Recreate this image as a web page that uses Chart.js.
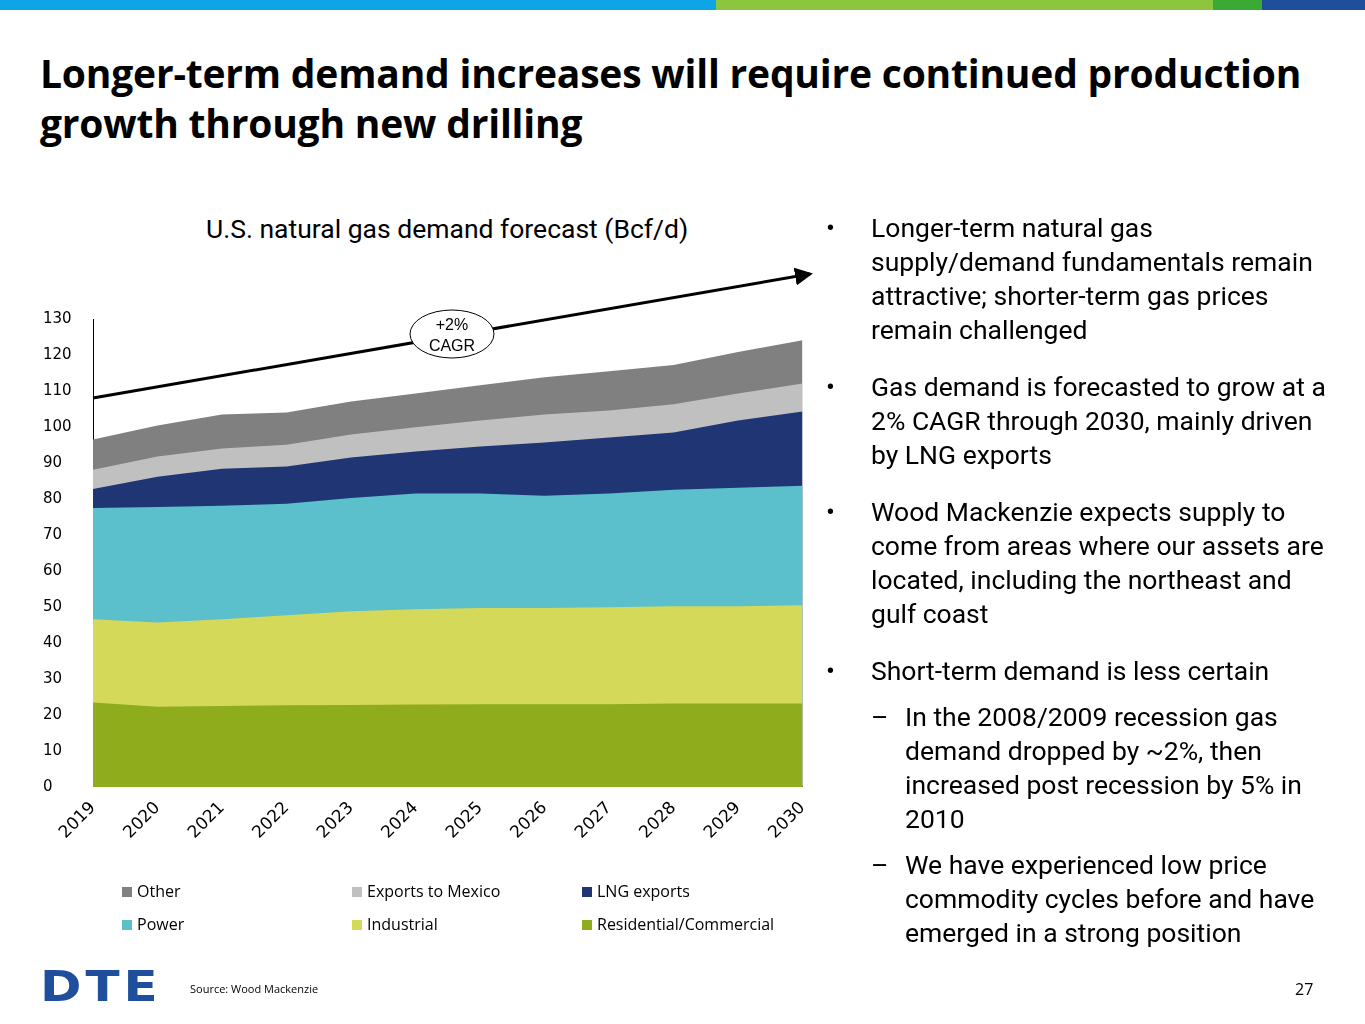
<!DOCTYPE html>
<html><head><meta charset="utf-8">
<script src="https://cdn.jsdelivr.net/npm/chart.js@4"></script>
<style>
body{margin:0;width:1365px;height:1024px;position:relative;background:#fff;font-family:"Open Sans",sans-serif;overflow:hidden}
.bar{position:absolute;top:0;height:10px}
h1{position:absolute;left:40px;top:48px;margin:0;font-size:39px;line-height:50px;font-weight:700;color:#000;letter-spacing:-0.2px}
#ct{position:absolute;left:206px;top:213px;font-size:26.5px;font-family:Roboto,sans-serif}
#wrap{position:absolute;left:20px;top:294px;width:800px;height:552px}
.bul{position:absolute;left:826px;top:211px;width:530px;font-family:Roboto,sans-serif;font-size:26.5px;line-height:34px;color:#000}
.bul p{margin:0 0 23px 45px;position:relative;white-space:nowrap}
.bul p:before{content:"•";position:absolute;left:-45px}
.bul p.s{margin-left:79px;margin-bottom:12px}
.bul p.s:before{content:"–";left:-34px}
.leg{position:absolute;font-size:16px;font-family:"Open Sans",sans-serif}
.leg i{display:inline-block;width:10px;height:10px;margin-right:5px}
#src{position:absolute;left:190px;top:981px;font-size:11px}
#pg{position:absolute;left:1295px;top:978px;font-size:16px}
#dte{position:absolute;left:40px;top:962px;font-size:50px;font-weight:900;color:#1e4e9c;font-family:"DejaVu Sans",sans-serif;letter-spacing:4px;line-height:50px;transform:scaleY(0.85)}
</style></head><body>
<div class="bar" style="left:0;width:716px;background:#0ea5e6"></div>
<div class="bar" style="left:716px;width:497px;background:#8cc63f"></div>
<div class="bar" style="left:1213px;width:49px;background:#3aaa35"></div>
<div class="bar" style="left:1262px;width:103px;background:#1e4e9c"></div>
<h1>Longer-term demand increases will require continued production<br>growth through new drilling</h1>
<div id="ct">U.S. natural gas demand forecast (Bcf/d)</div>
<div id="wrap"><canvas id="c"></canvas></div>
<svg style="position:absolute;left:0;top:0" width="1365" height="1024">
<defs><marker id="ah" markerWidth="6" markerHeight="6" refX="5" refY="3" orient="auto"><path d="M0,0 L6,3 L0,6 z" fill="#000"/></marker></defs>
<line x1="93" y1="398" x2="810" y2="274" stroke="#000" stroke-width="3" marker-end="url(#ah)"/>
<ellipse cx="452" cy="334" rx="42" ry="24" fill="#fff" stroke="#000" stroke-width="1"/>
<text x="452" y="330" font-family="Liberation Sans" font-size="16" text-anchor="middle">+2%</text>
<text x="452" y="351" font-family="Liberation Sans" font-size="16" text-anchor="middle">CAGR</text>
</svg>
<div class="leg" style="left:122px;top:880px"><i style="background:#808080"></i>Other</div>
<div class="leg" style="left:352px;top:880px"><i style="background:#c0c0c0"></i>Exports to Mexico</div>
<div class="leg" style="left:582px;top:880px"><i style="background:#1f3574"></i>LNG exports</div>
<div class="leg" style="left:122px;top:913px"><i style="background:#5bbfcc"></i>Power</div>
<div class="leg" style="left:352px;top:913px"><i style="background:#d4d95a"></i>Industrial</div>
<div class="leg" style="left:582px;top:913px"><i style="background:#8fac1c"></i>Residential/Commercial</div>
<div class="bul">
<p>Longer-term natural gas<br>supply/demand fundamentals remain<br>attractive; shorter-term gas prices<br>remain challenged</p>
<p>Gas demand is forecasted to grow at a<br>2% CAGR through 2030, mainly driven<br>by LNG exports</p>
<p>Wood Mackenzie expects supply to<br>come from areas where our assets are<br>located, including the northeast and<br>gulf coast</p>
<p style="margin-bottom:12px">Short-term demand is less certain</p>
<p class="s">In the 2008/2009 recession gas<br>demand dropped by ~2%, then<br>increased post recession by 5% in<br>2010</p>
<p class="s">We have experienced low price<br>commodity cycles before and have<br>emerged in a strong position</p>
</div>
<div id="dte">DTE</div>
<div id="src">Source: Wood Mackenzie</div>
<div id="pg">27</div>
<script>
const years=["2019","2020","2021","2022","2023","2024","2025","2026","2027","2028","2029","2030"];
const residential=[23.5,22.3,22.5,22.7,22.8,22.9,23,23,23,23.2,23.2,23.2];
const industrial=[23.1,23.4,24.1,25,26,26.5,26.7,26.7,26.9,27,27,27.3];
const power=[30.9,32.1,31.5,31,31.5,32.1,31.8,31.2,31.6,32.4,32.9,33.2];
const lng=[5.3,8.4,10.3,10.3,11.2,11.7,13.1,14.8,15.6,15.9,18.7,20.6];
const mexico=[5.3,5.6,5.6,6.1,6.4,6.7,7.2,7.8,7.5,7.8,7.5,7.8];
const other=[8.4,8.6,9.5,8.9,9.2,9.4,9.8,10.3,10.9,10.9,11.5,12];
const ds=(l,d,c)=>({label:l,data:d,backgroundColor:c,borderWidth:0,fill:true,pointRadius:0,tension:0});
new Chart(document.getElementById('c'),{type:'line',
data:{labels:years,datasets:[ds('Residential/Commercial',residential,'#8fac1c'),ds('Industrial',industrial,'#d4d95a'),ds('Power',power,'#5bbfcc'),ds('LNG exports',lng,'#1f3574'),ds('Exports to Mexico',mexico,'#c0c0c0'),ds('Other',other,'#808080')]},
options:{responsive:true,maintainAspectRatio:false,animation:false,layout:{padding:{top:0,right:9,left:23}},
plugins:{legend:{display:false},tooltip:{enabled:false}},
scales:{x:{stacked:true,offset:false,grid:{display:false},border:{color:'#000'},ticks:{maxRotation:45,minRotation:45,color:'#000',font:{family:'Verdana, DejaVu Sans',size:17}}},
y:{stacked:true,min:0,max:130,afterFit:s=>{s.width=50},grid:{display:false},border:{color:'#000'},ticks:{stepSize:10,color:'#000',padding:16,crossAlign:'far',font:{family:'Verdana, DejaVu Sans',size:15}}}}}});
</script>
</body></html>
